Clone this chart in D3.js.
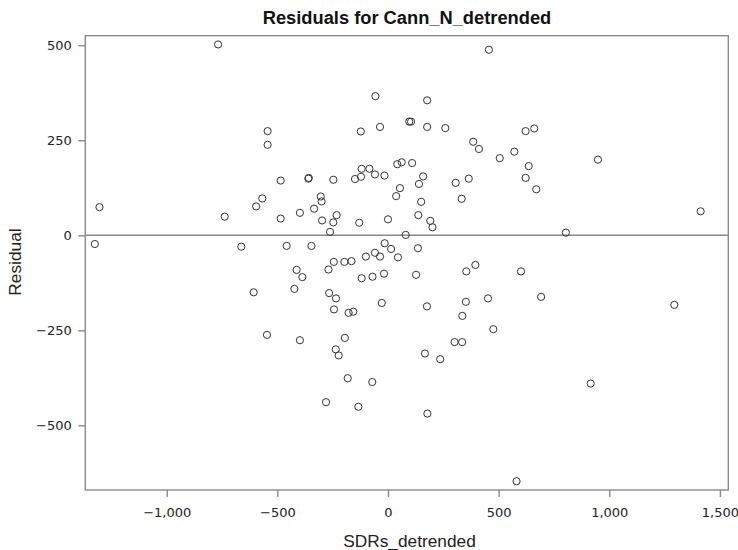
<!DOCTYPE html>
<html>
<head>
<meta charset="utf-8">
<script src="https://cdn.jsdelivr.net/npm/d3@7"></script>
<style>
    body { margin: 0; background: #fff; }
    svg { display: block; font-family: "Liberation Sans", Arial, sans-serif; }
    .frame { fill: none; stroke: #8a8a8a; stroke-width: 1.4; }
    .axis path { display: none; }
    .axis line { stroke: #8a8a8a; stroke-width: 1.4; }
    .axis text { font-family: "DejaVu Sans", sans-serif; font-size: 13px; fill: #222; }
</style>
</head>
<body>
<svg id="chart" width="738" height="550"></svg>
<script>

const title = 'Residuals for Cann_N_detrended';
const xLabel = 'SDRs_detrended';
const yLabel = 'Residual';

// one entry per circle
const sdrs = [
    -768, -1304, -738, -596, -568, -544, -544, -485, -485, -398,
    -360, -358, -334, -304, -300, -298, -247, -247, -232, -262,
    -149, -122, -119, -84, -123, -130, -59, -16, -57, -36,
    96, 104, 177, 177, 42, 62, 109, 159, 140, 54,
    37, 150, 0, 137, 191, 201, 80, 259, 385, 411,
    622, 661, 505, 571, 636, 622, 670, 306, 365, 333,
    804, 456, 949, 1413,
    -1325, -663, -458, -346, -15, 14, 45, 135, -59, -36,
    -100, -245, -197, -165, -269, -413, -387, -423, -607, -119,
    -70, -18, 127, -266, -235, -244, -178, -157, -28, 176,
    -547, -398, -195, -236, -223, -182, -280, -134, -71, 354,
    395, 601, 352, 452, 692, 1294, 336, 476, 301, 335,
    167, 236, 916, 178, 581
];

const residuals = [
    502, 74, 49, 76, 97, 274, 238, 144, 44, 59,
    149, 151, 70, 102, 89, 39, 146, 34, 53, 9,
    148, 154, 175, 175, 273, 33, 160, 157, 366, 285,
    299, 299, 355, 285, 187, 192, 190, 155, 135, 124,
    103, 88, 42, 53, 38, 21, 1, 282, 246, 227,
    274, 281, 203, 220, 182, 151, 121, 138, 149, 96,
    7, 488, 199, 63,
    -23, -30, -28, -28, -21, -36, -58, -34, -46, -56,
    -56, -70, -70, -68, -90, -91, -110, -141, -150, -113,
    -109, -101, -104, -152, -166, -195, -204, -201, -178, -187,
    -262, -276, -270, -300, -316, -376, -439, -451, -386, -95,
    -78, -95, -175, -166, -162, -183, -212, -247, -281, -281,
    -311, -326, -390, -469, -647
];

const xTicks = [-1000, -500, 0, 500, 1000, 1500];
const yTicks = [-500, -250, 0, 250, 500];

const frame = {left: 85.3, right: 728.3, top: 35.7, bottom: 490};

const svg = d3.select('#chart');

const x = d3.scaleLinear()
    .domain([-1368, 1538])
    .range([frame.left, frame.right]);

const y = d3.scaleLinear()
    .domain([-670, 525])
    .range([frame.bottom, frame.top]);

const points = sdrs.map((s, i) => ({s, r: residuals[i]}));

// axes first, frame drawn over them
svg.append('g')
    .attr('class', 'axis')
    .attr('transform', `translate(0,${frame.bottom})`)
    .call(d3.axisBottom(x).tickValues(xTicks).tickFormat(d3.format(',')).tickSize(7).tickPadding(10.5));

svg.append('g')
    .attr('class', 'axis')
    .attr('transform', `translate(${frame.left},0)`)
    .call(d3.axisLeft(y).tickValues(yTicks).tickFormat(d3.format(',')).tickSize(7).tickPadding(6.6));

svg.append('rect')
    .attr('class', 'frame')
    .attr('x', frame.left)
    .attr('y', frame.top)
    .attr('width', frame.right - frame.left)
    .attr('height', frame.bottom - frame.top);

// zero reference line
svg.append('line')
    .attr('x1', frame.left)
    .attr('x2', frame.right)
    .attr('y1', y(0))
    .attr('y2', y(0))
    .attr('stroke', '#8a8a8a')
    .attr('stroke-width', 1.4);

svg.append('g')
    .selectAll('circle')
    .data(points)
    .enter()
    .append('circle')
    .attr('cx', d => x(d.s))
    .attr('cy', d => y(d.r))
    .attr('r', 3.6)
    .attr('fill', 'none')
    .attr('stroke', '#333')
    .attr('stroke-width', 1);

svg.append('text')
    .attr('x', 407)
    .attr('y', 24)
    .attr('text-anchor', 'middle')
    .attr('font-size', 18.3)
    .attr('font-weight', 'bold')
    .attr('fill', '#111')
    .text(title);

svg.append('text')
    .attr('x', 409.5)
    .attr('y', 546.5)
    .attr('text-anchor', 'middle')
    .attr('font-size', 17.3)
    .attr('fill', '#222')
    .text(xLabel);

svg.append('text')
    .attr('transform', 'translate(21,262) rotate(-90)')
    .attr('text-anchor', 'middle')
    .attr('font-size', 17.3)
    .attr('fill', '#222')
    .text(yLabel);

</script>
</body>
</html>
